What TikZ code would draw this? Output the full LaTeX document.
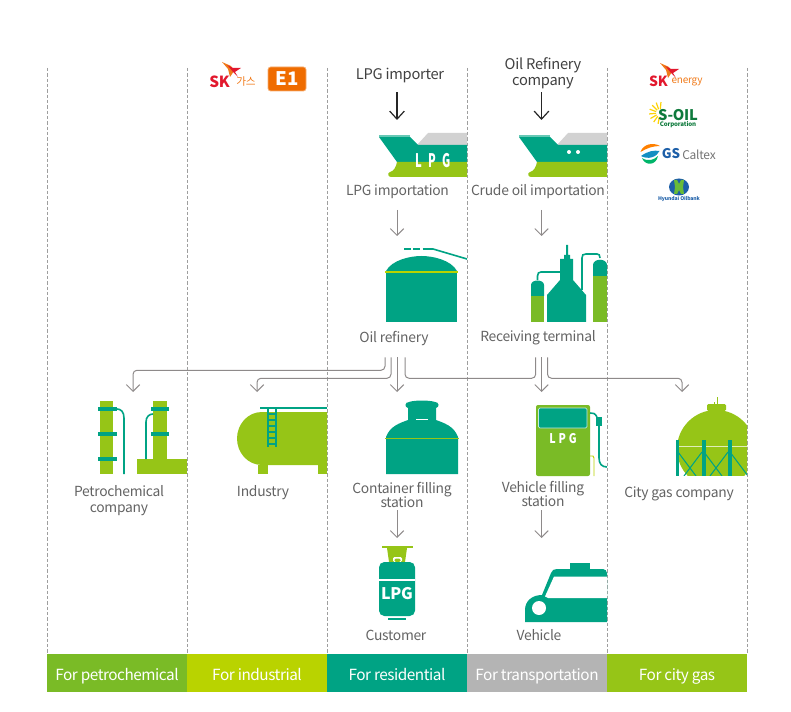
\documentclass[tikz,border=0pt]{standalone}
\usepackage{fontspec}
\setmainfont[LetterSpace=-2]{Noto Sans CJK KR}
\usetikzlibrary{positioning, arrows.meta}
\definecolor{leaf}{HTML}{96C517}
\definecolor{grass}{HTML}{7ABB26}
\definecolor{lime}{HTML}{B9D300}
\definecolor{teal}{HTML}{00A384}
\definecolor{ash}{HTML}{B4B4B4}
\definecolor{roof}{HTML}{D2D2D2}
\definecolor{ink}{HTML}{636363}
\definecolor{wire}{HTML}{8E8A8A}
\definecolor{skred}{HTML}{E2182D}
\definecolor{skorange}{HTML}{F07A1A}
\definecolor{eone}{HTML}{EF6C00}
\definecolor{oilgreen}{HTML}{0E7A3C}
\definecolor{gsblue}{HTML}{1D5FA8}
\def\px{0.75pt}
\begin{document}
\begin{tikzpicture}[
        x=0.75pt, y=-0.75pt,
        lbl/.style={font=\fontsize{10.4}{11.4}\selectfont, text=ink, align=center, inner sep=0pt, minimum height=38*\px},
        oneline/.style={text height=10pt, text depth=2.5pt},
        head/.style={font=\fontsize{11}{12.4}\selectfont, text=black!75, align=center, inner sep=0pt},
        band/.style={font=\fontsize{11.5}{12}\selectfont\addfontfeature{LetterSpace=-3}, text=white, text height=12.5pt, text depth=2pt, minimum width=140*\px, minimum height=38*\px, inner sep=0pt, outer sep=0pt},
        slot/.style={inner sep=0pt, outer sep=0pt, minimum width=2*\px},
        sep/.style={draw=black!38, dash pattern=on 2.5pt off 1.5pt, line width=0.6pt},
        flow/.style={draw=wire, line width=0.75pt, -{Straight Barb[length=5pt, width=10pt]}},
        link/.style={draw=wire, line width=0.75pt, rounded corners=3pt},
        order/.style={draw=black!85, line width=0.9pt, -{Straight Barb[length=6pt, width=11pt]}},
        pipe/.style={draw=teal, line width=1.2pt},
        ship/.pic={
            \fill[roof] (417,145) -- (428,133) -- (467,133) -- (467,145) -- cycle;
            \fill[teal] (379,137) -- (410,137) -- (418,145) -- (467,145) -- (467,162) -- (397,162) -- cycle;
            \fill[leaf] (397,162) -- (467,162) -- (467,177) -- (391,177) .. controls (388,177) and (387,173) .. (390,172) .. controls (394,171) and (396,167) .. (397,162) -- cycle;
            \draw[teal!60, line width=0.8pt] (379,136) -- (410,136);
        },
        skwing/.pic={
            \fill[skorange] (0,0) -- (9,4) -- (12,9) -- (8,15) -- (6,7) -- cycle;
            \fill[skred] (5,3) -- (11,6) -- (19,6) -- (13,10) -- (16,15) -- (11,10) -- (7,5) -- cycle;
        }
    ]
    \useasboundingbox (0,0) rectangle (791,712);

    % Column separators
    \draw[sep] (47,68) -- (47,654);
    \draw[sep] (187,68) -- (187,654);
    \draw[sep] (327,68) -- (327,654);
    \draw[sep] (467,68) -- (467,654);
    \draw[sep] (607,68) -- (607,654);
    \draw[sep] (747,68) -- (747,654);

    % Bottom bands
    \node[band, fill=grass] (forpetro) at (117,673) {For petrochemical};
    \node[band, fill=lime] (forindustry) at (257,673) {For industrial};
    \node[band, fill=teal] (forhome) at (397,673) {For residential};
    \node[band, fill=ash] (fortransport) at (537,673) {For transportation};
    \node[band, fill=leaf] (forcity) at (677,673) {For city gas};

    % Ships
    \pic at (0,0) {ship};
    \pic at (140,0) {ship};
    \node[font=\bfseries\fontsize{14}{14}\selectfont, text=white, inner sep=0pt] (shipmark) at (433,160.5) {\scalebox{0.6}[1]{L\hspace{7.5pt}P\hspace{7.5pt}G}};
    \fill[white] (569,152) circle (2) (578,152) circle (2);

    % Oil refinery tank
    \fill[teal] (386,271) .. controls (392,260) and (410,256) .. (421.5,256) .. controls (433,256) and (451,260) .. (457,271) -- cycle;
    \fill[teal] (386,273) rectangle (457,322);
    \draw[lime, line width=1.5pt] (385,272) -- (458,272);
    \draw[pipe, dash pattern=on 5pt off 2pt] (404,249) -- (425,249);
    \draw[pipe] (425,249) -- (433,249) -- (467,259);

    % Receiving terminal
    \fill[grass] (531,296) rectangle (544,322);
    \fill[teal] (531,296) -- (531,285) .. controls (531,279) and (544,279) .. (544,285) -- (544,296) -- cycle;
    \fill[grass] (593,276) rectangle (607,322);
    \fill[teal] (593,276) -- (593,265) .. controls (593,258) and (607,258) .. (607,265) -- (607,276) -- cycle;
    \fill[teal] (547,322) -- (547,295) -- (560,280) -- (560,259) -- (564,259) -- (564,255) -- (566,255) -- (566,245) -- (568,245) -- (568,255) -- (570,255) -- (570,259) -- (573,259) -- (573,280) -- (586,295) -- (586,322) -- cycle;
    \draw[pipe] (537.5,280) -- (537.5,276) .. controls (537.5,273) and (539,272) .. (541,272) -- (560,272);
    \draw[pipe] (582,290) -- (582,258) .. controls (582,255) and (583,254) .. (586,254) -- (597,254) .. controls (599,254) and (600,255) .. (600,258);

    % Petrochemical columns
    \fill[leaf] (100,401) rectangle (113,474);
    \fill[leaf] (153,401) rectangle (167,474);
    \fill[leaf] (137,459) rectangle (187,474);
    \fill[teal] (98,407) rectangle (117,411);
    \fill[teal] (98,432) rectangle (117,436);
    \fill[teal] (98,457) rectangle (117,461);
    \fill[teal] (151,407) rectangle (169,411);
    \fill[teal] (151,432) rectangle (169,436);
    \draw[pipe] (117,409) .. controls (121,409) and (124,412) .. (124,418) -- (124,474);
    \draw[pipe] (146,459) -- (146,422) .. controls (146,417) and (149,414) .. (153,414);

    % Industry tank
    \fill[leaf] (327,412) -- (262,412) .. controls (247,412) and (237,425) .. (237,438.5) .. controls (237,452) and (247,465) .. (262,465) -- (327,465) -- cycle;
    \fill[leaf] (258,465) rectangle (268,474);
    \fill[leaf] (318,465) rectangle (327,474);
    \draw[pipe] (260,408) -- (327,408);
    \draw[pipe] (268,408) -- (268,447);
    \draw[pipe] (276,408) -- (276,447);
    \draw[pipe] (268,414) -- (276,414) (268,420) -- (276,420) (268,426) -- (276,426) (268,432) -- (276,432) (268,438) -- (276,438) (268,444) -- (276,444);

    % Container filling station
    \fill[teal] (386,474) -- (386,437) .. controls (390,426) and (400,423) .. (408,420) -- (408,408) .. controls (404,407) and (405,402) .. (409,402) .. controls (415,400) and (429,400) .. (435,402) .. controls (439,402) and (440,407) .. (436,408) -- (436,420) .. controls (444,423) and (454,426) .. (458,437) -- (458,474) -- cycle;
    \draw[leaf, line width=1.3pt] (385,438.5) -- (459,438.5);
    \draw[white, line width=0.7pt] (416,419) -- (428,419);

    % Vehicle filling station
    \fill[grass, rounded corners=1.5pt] (536,405) rectangle (590,476);
    \fill[teal, draw=white!75!teal, line width=0.6pt, rounded corners=1pt] (538.5,408) rectangle (587,428);
    \node[font=\bfseries\fontsize{10}{10}\selectfont, text=white, inner sep=0pt] (pumpmark) at (563,438.5) {\scalebox{0.8}[1]{L\hspace{2.8pt}P\hspace{2.8pt}G}};
    \draw[pipe] (590,413) .. controls (593,413) and (595,413) .. (597,417);
    \fill[teal] (596,417) -- (602,417) -- (602,426) -- (596,426) -- cycle;
    \draw[pipe] (599,426) -- (599,458) .. controls (599,464) and (602,467) .. (607,467);
    \draw[lime, line width=0.7pt] (590,456) -- (593,456) -- (594,458) -- (594,476);

    % City gas sphere
    \begin{scope}
        \clip (670,390) rectangle (747,475.5);
        \fill[leaf] (716,449) circle (39);
        \draw[white!70!leaf, line width=0.6pt] (678,446) -- (747,446);
        \draw[teal, line width=0.8pt] (678,452) -- (696,476) (702,452) -- (684,476) (704,452) -- (722,476) (728,452) -- (710,476) (730,452) -- (748,476);
        \fill[teal] (675.5,440) rectangle (679,476);
        \fill[teal] (702,440) rectangle (705.5,476);
        \fill[teal] (728,440) rectangle (731.5,476);
    \end{scope}
    \fill[leaf, rounded corners=1pt] (707,404) rectangle (726,411);
    \fill[leaf] (716.5,397) rectangle (718,405);
    \fill[leaf] (714,402) rectangle (715,405);

    % LPG cylinder
    \fill[leaf] (382,546) rectangle (413,548);
    \fill[leaf] (387,548) -- (407,548) -- (405,562) -- (389,562) -- cycle;
    \fill[white, rounded corners=1pt] (393,557) rectangle (402,562);
    \fill[leaf, rounded corners=1pt] (394.5,558.5) rectangle (400.5,562);
    \fill[teal, rounded corners=4pt] (379,562) rectangle (415,616);
    \draw[white, line width=0.8pt] (379,580) -- (415,580);
    \fill[teal] (388,617.5) rectangle (406,620);
    \node[font=\bfseries\fontsize{12}{12}\selectfont, text=white, inner sep=0pt] (tankmark) at (397,594) {LPG};

    % Vehicle
    \fill[teal] (570,563) rectangle (590,570);
    \fill[teal] (525,622) -- (525,610) .. controls (525,601) and (532,595) .. (542,595) -- (551,573) .. controls (552,570) and (554,569) .. (557,569) -- (603,569) .. controls (605,569) and (607,571) .. (607,573) -- (607,622) -- cycle;
    \fill[white] (545,596.5) -- (554,576.5) -- (607,576.5) -- (607,598) -- (548,598) -- cycle;
    \fill[white] (539,608) circle (7);

    % Logos
    \node[font=\bfseries\fontsize{11.5}{12}\selectfont, text=skred, inner sep=0pt] (skgas) at (219.5,81.5) {SK};
    \pic at (222,62) {skwing};
    \node[font=\fontsize{8}{9}\selectfont, text=skorange, inner sep=0pt] (skgasname) at (246,82) {가스};
    \node[fill=eone, draw=eone!55, line width=0.6pt, rounded corners=2pt, minimum width=38*\px, minimum height=24*\px, inner sep=0pt, text=white, font=\bfseries\fontsize{14}{14}\selectfont] (eonelogo) at (287,79) {E1};
    \node[font=\bfseries\fontsize{10.5}{11}\selectfont, text=skred, inner sep=0pt] (skenergy) at (658.5,81) {SK};
    \pic at (660,63) {skwing};
    \node[font=\fontsize{7.5}{8}\selectfont, text=skorange, inner sep=0pt] (skenergyname) at (687,81.5) {energy};
    \foreach \ang in {100,125,...,275} {
        \draw[draw=yellow!70!orange, line width=0.9pt] (660,113) ++(\ang:4) -- ++(\ang:7);
    }
    \node[font=\bfseries\fontsize{11}{11}\selectfont, text=oilgreen, inner sep=0pt] (soil) at (678,115) {S-OIL};
    \node[font=\bfseries\fontsize{4.6}{5}\selectfont, text=oilgreen, inner sep=0pt] (soilname) at (678,125) {Corporation};
    \fill[orange] (640.5,152) .. controls (643,144) and (653,142) .. (660,146) .. controls (653,146) and (647,148) .. (640.5,152) -- cycle;
    \fill[gsblue!70!cyan] (641,156) .. controls (648,151) and (654,150) .. (659.5,151) .. controls (657,157) and (648,160) .. (641,156) -- cycle;
    \fill[teal!80!green] (642,158) .. controls (648,162) and (654,160) .. (658,156) .. controls (656,166) and (645,166) .. (642,158) -- cycle;
    \node[font=\bfseries\fontsize{10}{10}\selectfont, text=gsblue, inner sep=0pt] (gslogo) at (671,154) {GS};
    \node[font=\fontsize{9}{10}\selectfont, text=black!55, inner sep=0pt] (caltex) at (699,154.5) {Caltex};
    \fill[gsblue] (679,187) ellipse (10 and 8.5);
    \fill[leaf!70!teal] (674,180) -- (677,180) -- (679,184) -- (681,180) -- (684,180) -- (683,187) -- (684,194) -- (681,194) -- (679,190) -- (677,194) -- (674,194) -- (675,187) -- cycle;
    \node[font=\bfseries\itshape\fontsize{3.8}{5}\selectfont, text=gsblue, inner sep=0pt] (oilbank) at (679,199) {Hyundai Oilbank};

    % Labels
    \node[head, text height=11pt, text depth=2pt, minimum height=36*\px] (lpgbuyer) at (400,74) {LPG importer};
    \node[head, minimum height=37*\px] (oilbuyer) at (543,73.5) {Oil Refinery\\[-0.5pt]company};
    \node[lbl, oneline] (lpgimport) at (397.5,190.5) {LPG importation};
    \node[lbl, oneline] (crudeimport) at (538,190.5) {Crude oil importation};
    \node[lbl, oneline] (refinery) at (394,338) {Oil refinery};
    \node[lbl, oneline, minimum height=40*\px] (terminal) at (538,337) {Receiving terminal};
    \node[lbl] (petrolbl) at (119,500.5) {Petrochemical\\[0.6pt]company};
    \node[lbl, oneline] (industrylbl) at (263,491) {Industry};
    \node[lbl, minimum height=30*\px] (containerlbl) at (402,495) {Container filling\\[-0.6pt]station};
    \node[lbl, minimum height=32*\px] (pumplbl) at (543,494) {Vehicle filling\\[-0.6pt]station};
    \node[lbl, oneline] (citylbl) at (679,492) {City gas company};
    \node[lbl, oneline] (customerlbl) at (396,635.5) {Customer};
    \node[lbl, oneline] (vehiclelbl) at (539,635.5) {Vehicle};

    % Slots the arrows end on
    \node[slot, minimum height=57*\px] (lpgship) at (397,148.5) {};
    \node[slot, minimum height=57*\px] (crudeship) at (541.5,148.5) {};
    \node[slot, minimum height=86*\px] (tankslot) at (397,279) {};
    \node[slot, minimum height=86*\px] (termslot) at (541.5,279) {};
    \node[slot, minimum height=82*\px] (petroslot) at (133,433) {};
    \node[slot, minimum height=82*\px] (industryslot) at (257,433) {};
    \node[slot, minimum height=82*\px] (containerslot) at (397,433) {};
    \node[slot, minimum height=82*\px] (pumpslot) at (541.5,433) {};
    \node[slot, minimum height=82*\px] (cityslot) at (682,433) {};
    \node[slot, minimum height=82*\px] (customerslot) at (397,579) {};
    \node[slot, minimum height=84*\px] (vehicleslot) at (541.5,580) {};

    % Connectors
    \draw[order] (lpgbuyer.south -| lpgship.north) -- (lpgship.north);
    \draw[order] (oilbuyer.south -| crudeship.north) -- (crudeship.north);
    \draw[flow] (lpgimport.south -| tankslot.north) -- (tankslot.north);
    \draw[flow] (crudeimport.south -| termslot.north) -- (termslot.north);
    \draw[flow, rounded corners=3pt] ([xshift=-9*\px]refinery.south) -- ++(0,13) -| (petroslot.north);
    \draw[flow, rounded corners=3pt] ([xshift=-3*\px]refinery.south) -- ++(0,21) -| (industryslot.north);
    \draw[flow] (refinery.south -| containerslot.north) -- (containerslot.north);
    \draw[link] ([xshift=11*\px]refinery.south) -- ++(0,21) -| ([xshift=-2.3*\px]terminal.south);
    \draw[flow] (terminal.south -| pumpslot.north) -- (pumpslot.north);
    \draw[flow, rounded corners=3pt] ([xshift=9.5*\px]terminal.south) -- ++(0,21) -| (cityslot.north);
    \draw[flow] (containerlbl.south -| customerslot.north) -- (customerslot.north);
    \draw[flow] (pumplbl.south -| vehicleslot.north) -- (vehicleslot.north);
\end{tikzpicture}
\end{document}
